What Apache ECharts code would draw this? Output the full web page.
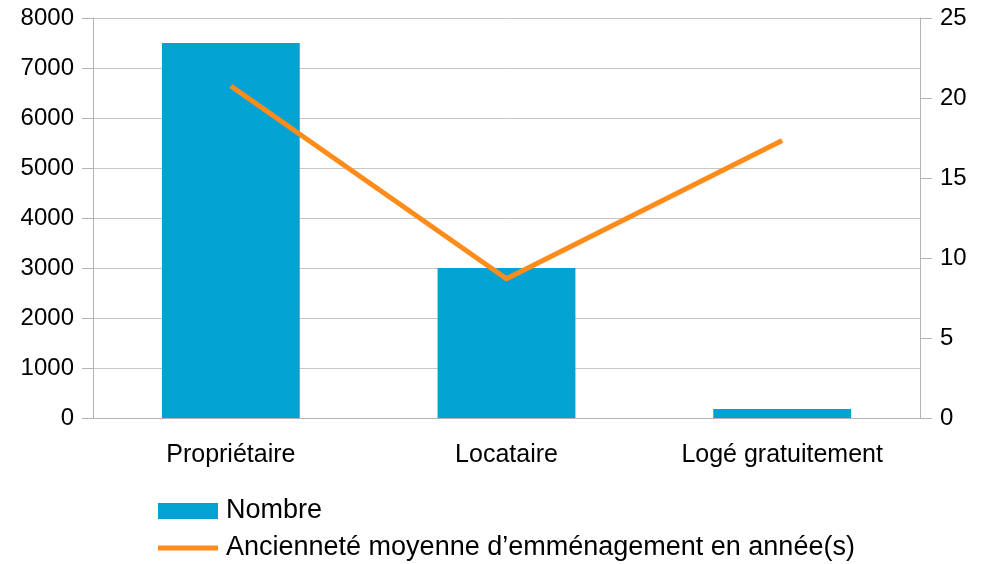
<!DOCTYPE html>
<html>
<head>
<meta charset="utf-8">
<script src="https://cdn.jsdelivr.net/npm/echarts@6/dist/echarts.min.js"></script>
<style>
  html, body { margin: 0; padding: 0; background: #fff; }
  #chart { width: 988px; height: 564px; }
</style>
</head>
<body>
<div id="chart"></div>
<script>
var categories = ['Propriétaire', 'Locataire', 'Logé gratuitement'];
var nombre = [7500, 3000, 180];
var anciennete = [20.75, 8.7, 17.35];
var seriesNames = ['Nombre', 'Ancienneté moyenne d’emménagement en année(s)'];

var font = 'Liberation Sans';
var gridColor = '#c6c6c6';
var axisColor = '#b3b3b3';
var barColor = '#02a3d3';
var lineColor = '#ff8c1a';

var myChart = echarts.init(document.getElementById('chart'));

var legendText = { fontSize: 27, lineHeight: 30, color: '#000', fontFamily: font, padding: [0, 0, 0, 3] };

var option = {
  animation: false,
  textStyle: { fontFamily: font, color: '#000' },
  grid: { left: 93, right: 68, top: 18, bottom: 146 },
  legend: [
    {
      left: 158,
      top: 496,
      padding: 0,
      itemWidth: 60,
      itemHeight: 16,
      textStyle: legendText,
      data: [{ name: seriesNames[0], icon: 'rect' }]
    },
    {
      left: 158,
      top: 533,
      padding: 0,
      itemWidth: 60,
      itemHeight: 5,
      textStyle: legendText,
      data: [{ name: seriesNames[1], icon: 'rect', itemStyle: { color: lineColor } }]
    }
  ],
  xAxis: {
    type: 'category',
    data: categories,
    axisLine: { lineStyle: { color: axisColor } },
    axisTick: { length: 12, lineStyle: { color: axisColor } },
    axisLabel: { fontSize: 25, color: '#000', margin: 25 }
  },
  yAxis: [
    {
      type: 'value',
      min: 0,
      max: 8000,
      interval: 1000,
      axisLine: { show: true, lineStyle: { color: axisColor } },
      axisTick: { show: true, length: 11, lineStyle: { color: axisColor } },
      splitLine: { lineStyle: { color: gridColor } },
      axisLabel: {
        fontSize: 24,
        color: '#000',
        margin: 19,
        formatter: function (v) { return String(v); }
      }
    },
    {
      type: 'value',
      min: 0,
      max: 25,
      interval: 5,
      axisLine: { show: true, lineStyle: { color: axisColor } },
      axisTick: { show: true, length: 12, lineStyle: { color: axisColor } },
      splitLine: { show: false },
      axisLabel: { fontSize: 24, color: '#000', margin: 20 }
    }
  ],
  series: [
    {
      name: seriesNames[0],
      type: 'bar',
      data: nombre,
      barWidth: '50%',
      itemStyle: { color: barColor }
    },
    {
      name: seriesNames[1],
      type: 'line',
      yAxisIndex: 1,
      data: anciennete,
      symbol: 'none',
      lineStyle: { color: lineColor, width: 5 },
      itemStyle: { color: lineColor }
    }
  ]
};

myChart.setOption(option);
</script>
</body>
</html>
